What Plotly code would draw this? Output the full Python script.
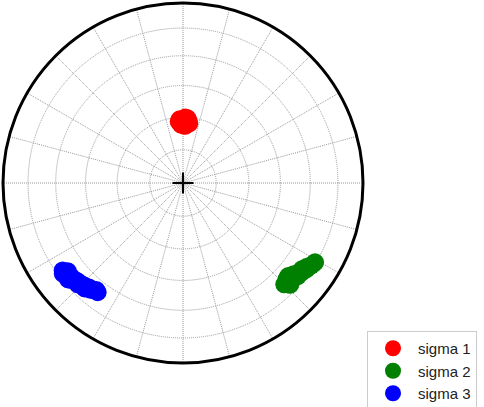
import numpy as np
import plotly.graph_objects as go

sigma1_trend = [0, 3, 357, 5, 2, 358, 4, 1, 359, 6, 2, 356, 3, 1]
sigma1_plunge = [62, 63, 61, 61.5, 64, 63.5, 60.5, 61, 62.5, 62.8, 60.2, 62, 62, 63.8]

sigma2_trend = [135, 134, 133, 132, 131, 130, 129, 128, 127, 126, 125, 124, 123, 122, 121, 131.5, 129.5, 133.5]
sigma2_plunge = [21.5, 20, 22.5, 19.8, 21, 20.5, 19, 20, 18.5, 19.5, 17.5, 18, 16.5, 16, 15.5, 23, 21.5, 19]

sigma3_trend = [234, 233, 232, 231, 230, 229, 228, 227, 226, 225, 224, 223, 222, 221, 220, 219, 218, 232.5, 230]
sigma3_plunge = [18.5, 17.5, 19.5, 18.5, 20, 19, 20.5, 21, 20, 21.5, 22, 21, 23, 22.5, 23.5, 24.5, 24, 20.5, 17.8]

series = [
    ('sigma 1', sigma1_trend, sigma1_plunge, 'red'),
    ('sigma 2', sigma2_trend, sigma2_plunge, 'green'),
    ('sigma 3', sigma3_trend, sigma3_plunge, 'blue'),
]

# anéis do grid a cada 15 graus de mergulho
grid_plunges = [75, 60, 45, 30, 15]


# projeção de igual área (Schmidt), hemisfério inferior
def equal_area(plunge):
    return np.sqrt(2) * np.sin(np.radians(90 - np.asarray(plunge, dtype=float)) / 2)


fig = go.Figure()

for nome, trend, plunge, cor in series:
    fig.add_trace(go.Scatterpolar(
        r=equal_area(plunge),
        theta=trend,
        mode='markers',
        name=nome,
        marker=dict(size=18, color=cor, line=dict(width=0)),
    ))

# cruz no centro
fig.add_trace(go.Scatterpolar(
    r=[0], theta=[0], mode='markers', showlegend=False, hoverinfo='skip',
    marker=dict(symbol='cross-thin', size=15, line=dict(width=2, color='black')),
))

fig.update_layout(
    width=484,
    height=407,
    margin=dict(l=3, r=121, t=3, b=44, autoexpand=False),
    paper_bgcolor='white',
    font=dict(family='Liberation Sans, Arial, sans-serif', size=15, color='#222'),
    polar=dict(
        bgcolor='white',
        domain=dict(x=[0, 1], y=[0, 1]),
        radialaxis=dict(
            range=[0, 1],
            tickvals=list(equal_area(grid_plunges)),
            showticklabels=False,
            ticks='',
            showline=False,
            gridcolor='#999999',
            gridwidth=1,
            griddash='1px,1px',
        ),
        angularaxis=dict(
            rotation=90,
            direction='clockwise',
            dtick=15,
            showticklabels=False,
            ticks='',
            showline=True,
            linecolor='black',
            linewidth=3,
            gridcolor='#999999',
            gridwidth=1,
            griddash='1px,1px',
        ),
    ),
    legend=dict(
        xref='container', yref='container',
        x=367 / 484, y=1 - 331 / 407,
        xanchor='left', yanchor='top',
        bgcolor='white',
        bordercolor='#cccccc',
        borderwidth=1,
        itemwidth=40,
        tracegroupgap=0,
        font=dict(size=15),
    ),
)

# tira a margem padrão do <body> para a figura ficar encostada no canto
fig.write_html("out.html", config={'displayModeBar': False},
               post_script="document.body.style.margin='0';")
